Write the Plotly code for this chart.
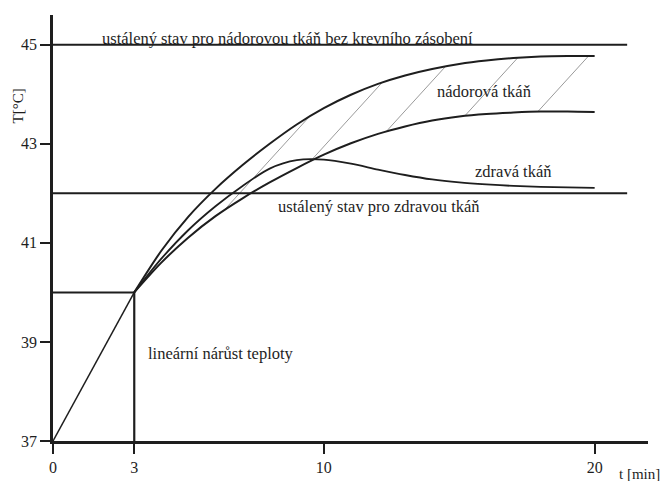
import numpy as np
import plotly.graph_objects as go

# time axis [min] and temperature [°C]
t_ramp = [0, 3]
T_ramp = [37, 40]

# tumour tissue without blood supply (upper boundary of hatched band)
t_upper = [3, 4, 5, 6, 7, 8, 9, 10, 11, 12, 13, 14, 15, 16, 17, 18, 19, 20]
T_upper = [40, 40.84, 41.53, 42.09, 42.57, 43.0, 43.39, 43.72, 43.99, 44.21, 44.38,
           44.51, 44.61, 44.68, 44.73, 44.76, 44.77, 44.77]

# tumour tissue (lower boundary of hatched band)
t_lower = [3, 4, 5, 6, 7, 8, 9, 10, 11, 12, 13, 14, 15, 16, 17, 18, 19, 20]
T_lower = [40, 40.6, 41.11, 41.54, 41.9, 42.22, 42.51, 42.78, 43.01, 43.2,
           43.35, 43.47, 43.55, 43.6, 43.63, 43.65, 43.65, 43.64]

# healthy tissue
t_healthy = [3, 4, 5, 6, 7, 8, 9, 10, 11, 12, 13, 14, 15, 16, 17, 18, 19, 20]
T_healthy = [40, 40.68, 41.26, 41.74, 42.15, 42.5, 42.67, 42.68, 42.6, 42.48,
             42.37, 42.28, 42.22, 42.18, 42.15, 42.13, 42.12, 42.11]

# steady states
T_steady_tumour = 45
T_steady_healthy = 42
t_steady_end = 21.2

# hatching: start times on the lower boundary and common slope [°C/min]
t_hatch = [6.3, 9.5, 12.3, 15.2, 17.9]
hatch_slope = 0.6

x_ticks = [0, 3, 10, 20]
y_ticks = [37, 39, 41, 43, 45]

INK = "#1e1e1e"
FONT = "Liberation Serif"

fig = go.Figure()


def line(x, y, width=1.8, color=INK, shape="linear"):
    fig.add_trace(go.Scatter(x=x, y=y, mode="lines", hoverinfo="skip",
                             line=dict(color=color, width=width, shape=shape,
                                       smoothing=0.8)))


# hatch lines between the two tumour curves
fine_t = np.linspace(3, 20, 1701)
up_f = np.interp(fine_t, t_upper, T_upper)
for t0 in t_hatch:
    T0 = np.interp(t0, t_lower, T_lower)
    seg = T0 + hatch_slope * (fine_t - t0)
    mask = (fine_t > t0) & (seg >= up_f)
    t1 = fine_t[mask][0] if mask.any() else 20
    line([t0, t1], [T0, T0 + hatch_slope * (t1 - t0)], width=1, color="#9a9a9a")

# steady-state levels
line([0, t_steady_end], [T_steady_tumour] * 2, width=2)
line([0, t_steady_end], [T_steady_healthy] * 2, width=2)

# linear heating phase
line([0, t_ramp[1]], [T_ramp[1]] * 2, width=2)
line([t_ramp[1]] * 2, [T_ramp[0], T_ramp[1]], width=2.2)
line(t_ramp, T_ramp, width=1.5)

# temperature curves
line(t_upper, T_upper, width=2, shape="spline")
line(t_lower, T_lower, width=2, shape="spline")
line(t_healthy, T_healthy, width=1.8, shape="spline")

lab = dict(family=FONT, size=16.5, color=INK)
ann = [
    dict(x=1.72, y=45.135, text="ustálený stav pro nádorovou tkáň bez krevního zásobení",
         xanchor="left", yanchor="middle"),
    dict(x=15.92, y=44.065, text="nádorová tkáň", xanchor="center", yanchor="middle"),
    dict(x=16.99, y=42.45, text="zdravá tkáň", xanchor="center", yanchor="middle"),
    dict(x=12.05, y=41.73, text="ustálený stav pro zdravou tkáň",
         xanchor="center", yanchor="middle"),
    dict(x=6.22, y=38.76, text="lineární nárůst teploty", xanchor="center",
         yanchor="middle"),
    dict(x=21.64, y=37, yshift=-33, text="t [min]", xanchor="center",
         yanchor="middle", font=dict(family=FONT, size=15, color=INK)),
]
for a in ann:
    a.setdefault("font", lab)
    fig.add_annotation(showarrow=False, xref="x", yref="y", **a)

# vertical axis title, left of the tick labels
fig.add_annotation(x=(17 - 52.5) / (648 - 52.5), y=(441 - 106) / (441 - 15),
                   xref="paper", yref="paper", text="T[°C]", textangle=-90,
                   xanchor="center", yanchor="middle", showarrow=False,
                   font=dict(family=FONT, size=15, color=INK))

axis_common = dict(showgrid=False, zeroline=False, showline=True, linewidth=2.5,
                   linecolor=INK, ticks="outside", ticklen=10, tickwidth=2.2,
                   tickcolor=INK, automargin=False,
                   tickfont=dict(family=FONT, size=16, color=INK))

fig.update_layout(
    width=663, height=481,
    margin=dict(l=52.5, r=15, t=15, b=40),
    paper_bgcolor="white", plot_bgcolor="white",
    showlegend=False,
    xaxis=dict(range=[0, 21.97], tickvals=x_ticks, **axis_common),
    yaxis=dict(range=[37, 45.6], tickvals=y_ticks, **axis_common),
)

fig.write_html("out.html")
